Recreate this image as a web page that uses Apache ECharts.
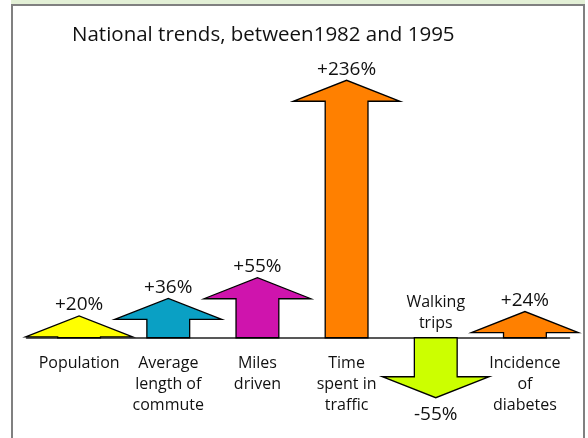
<!DOCTYPE html>
<html>
<head>
<meta charset="utf-8">
<script src="https://cdn.jsdelivr.net/npm/echarts@6/dist/echarts.min.js"></script>
<style>
  html, body { margin: 0; padding: 0; background: #fff; }
  .strip { position: absolute; left: 11px; top: 0; width: 574px; height: 4px; background: #e3f0d6; }
  .frame { position: absolute; left: 11px; top: 4px; width: 570px; height: 440px; border: 2px solid #808080; border-bottom: none; }
  #chart { position: absolute; left: 0; top: 0; width: 588px; height: 438px; }
</style>
</head>
<body>
<div class="strip"></div>
<div class="frame"></div>
<div id="chart"></div>
<script>
// data
const categories = ['Population', 'Average\nlength of\ncommute', 'Miles\ndriven', 'Time\nspent in\ntraffic', 'Walking\ntrips', 'Incidence\nof\ndiabetes']
const changes = [20, 36, 55, 236, -55, 24]
const arrowColors = ['#ffff00', '#0aa0c4', '#cf14ad', '#ff8000', '#ccff00', '#ff8000']

const FONT = '"Open Sans", sans-serif'

const chart = echarts.init(document.getElementById('chart'))

function renderArrow(params, api) {
  const i = api.value(0)
  const v = api.value(1)
  const base = api.coord([i, 0])
  const tip = api.coord([i, v])
  const band = api.size([1, 0])[0]
  const dir = v >= 0 ? -1 : 1 // screen direction of the arrow
  const len = Math.abs(tip[1] - base[1])
  const headH = Math.min(21, len)
  const headW = band * 0.6
  const shaftW = band * 0.24
  const cx = base[0]
  const neck = tip[1] - dir * headH
  const pts = [
    [cx - shaftW, base[1]], [cx - shaftW, neck], [cx - headW, neck],
    [cx, tip[1]],
    [cx + headW, neck], [cx + shaftW, neck], [cx + shaftW, base[1]]
  ]
  const sign = v > 0 ? '+' : ''
  return {
    type: 'group',
    children: [
      {
        type: 'polygon',
        shape: { points: pts },
        style: { fill: arrowColors[params.dataIndex], stroke: '#000', lineWidth: 1.3 }
      },
      {
        type: 'text',
        x: cx,
        y: tip[1] + (v >= 0 ? -11 : 17),
        style: {
          text: sign + v + '%', font: '19px ' + FONT, fill: '#111',
          align: 'center', verticalAlign: 'middle'
        }
      },
      {
        type: 'text',
        x: cx,
        y: v >= 0 ? base[1] + 15 : base[1] - 4,
        style: {
          text: categories[params.dataIndex], font: '16px ' + FONT, fill: '#111',
          lineHeight: 21, align: 'center', verticalAlign: v >= 0 ? 'top' : 'bottom'
        }
      }
    ]
  }
}

chart.setOption({
  animation: false,
  title: {
    text: 'National trends, between1982 and 1995',
    left: 67,
    top: 20,
    textStyle: { fontFamily: FONT, fontSize: 20.5, fontWeight: 'normal', color: '#111' }
  },
  grid: { left: 26.5, right: 18.5, top: 65, bottom: 13 },
  xAxis: {
    type: 'value',
    min: -0.59,
    max: 5.5,
    axisLine: { show: true, onZero: true, lineStyle: { color: '#222', width: 1.5 } },
    axisTick: { show: false },
    axisLabel: { show: false },
    splitLine: { show: false }
  },
  yAxis: {
    type: 'value',
    min: -80,
    max: 250,
    show: false,
    splitLine: { show: false }
  },
  series: [{
    type: 'custom',
    renderItem: renderArrow,
    clip: false,
    encode: { x: 0, y: 1 },
    data: changes.map((v, i) => [i, v])
  }]
})
</script>
</body>
</html>
